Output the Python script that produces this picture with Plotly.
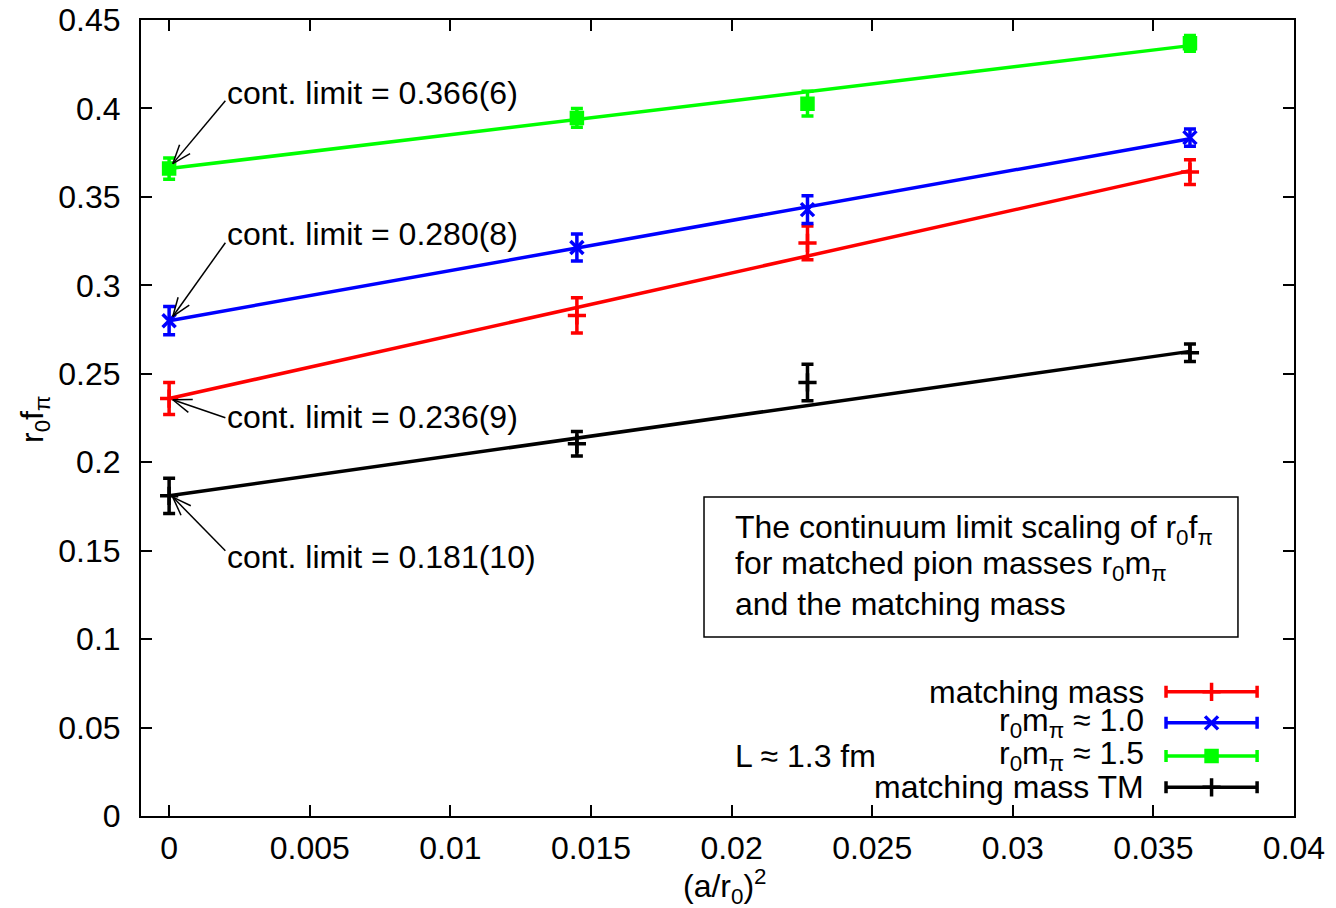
import math
import plotly.graph_objects as go

# (a/r0)^2 for the three lattice spacings plus the continuum point
a_r0_sq = [0.0, 0.0145, 0.0227, 0.0363]

# r0 f_pi values and errors per data set
matching_mass = [0.236, 0.283, 0.324, 0.364]
matching_mass_err = [0.009, 0.010, 0.0096, 0.007]

r0mpi_10 = [0.280, 0.3214, 0.3428, 0.3835]
r0mpi_10_err = [0.008, 0.0076, 0.0079, 0.0049]

r0mpi_15 = [0.366, 0.3946, 0.4027, 0.4368]
r0mpi_15_err = [0.006, 0.0053, 0.007, 0.0045]

matching_mass_tm = [0.181, 0.2104, 0.2451, 0.2619]
matching_mass_tm_err = [0.010, 0.0069, 0.0103, 0.005]

# linear continuum fits: intercept, slope
fit_intercept = [0.236, 0.280, 0.366, 0.181]
fit_slope = [3.55, 2.835, 1.915, 2.25]

series_names = ["matching mass", "r<sub>0</sub>m<sub>π</sub> ≈ 1.0",
                "r<sub>0</sub>m<sub>π</sub> ≈ 1.5", "matching mass TM"]
series_colors = ["#ff0000", "#0000ff", "#00ff00", "#000000"]
series_symbols = ["cross-thin", "x-thin", "square", "cross-thin"]
series_values = [matching_mass, r0mpi_10, r0mpi_15, matching_mass_tm]
series_errors = [matching_mass_err, r0mpi_10_err, r0mpi_15_err, matching_mass_tm_err]

# continuum-limit labels and their arrows
limit_labels = ["cont. limit = 0.236(9)", "cont. limit = 0.280(8)",
                "cont. limit = 0.366(6)", "cont. limit = 0.181(10)"]
label_x = 0.002
label_y = [0.2257, 0.3292, 0.4089, 0.1465]
arrow_tail_y = [0.2251, 0.3241, 0.4044, 0.1499]
arrow_tip_x = 0.00013
arrow_tip_y = [0.2353, 0.2824, 0.3688, 0.1803]

x_tickvals = [0, 0.005, 0.01, 0.015, 0.02, 0.025, 0.03, 0.035, 0.04]
y_tickvals = [0, 0.05, 0.1, 0.15, 0.2, 0.25, 0.3, 0.35, 0.4, 0.45]

X_RANGE = [-0.001, 0.04]
Y_RANGE = [0.0, 0.45]

W, H = 1336, 908
M_L, M_R, M_T, M_B = 141, 42, 20, 92
PLOT_W = W - M_L - M_R
PLOT_H = H - M_T - M_B

FONT = "Liberation Sans, Arial, Helvetica, sans-serif"
FS = 32
LW = 3.5


def marker_style(sym, color):
    return dict(symbol=sym, size=11 if sym == "square" else 13, color=color,
                line=dict(color=color, width=LW))


fig = go.Figure()

for vals, errs, color, sym, a, b in zip(series_values, series_errors, series_colors,
                                        series_symbols, fit_intercept, fit_slope):
    xs = [a_r0_sq[0], a_r0_sq[-1]]
    fig.add_trace(go.Scatter(
        x=xs, y=[a + b * x for x in xs], mode="lines",
        line=dict(color=color, width=LW), showlegend=False, hoverinfo="skip"))
    fig.add_trace(go.Scatter(
        x=a_r0_sq, y=vals, mode="markers",
        error_y=dict(type="data", array=errs, visible=True, color=color,
                     thickness=LW, width=6),
        marker=marker_style(sym, color),
        showlegend=False))

# key samples drawn on an overlay axis spanning the plot area
key_x_center = 0.9285
key_half = 0.0395
key_rows = [0.156, 0.117, 0.0754, 0.036]
for name, color, sym, ky in zip(series_names, series_colors, series_symbols, key_rows):
    fig.add_trace(go.Scatter(
        x=[key_x_center], y=[ky], mode="markers", xaxis="x2", yaxis="y2",
        error_x=dict(type="constant", value=key_half, visible=True, color=color,
                     thickness=LW, width=6),
        marker=marker_style(sym, color),
        showlegend=False, hoverinfo="skip"))

annotations = []
for name, ky in zip(series_names, key_rows):
    annotations.append(dict(
        x=0.8716, y=ky, xref="paper", yref="paper", text=name, showarrow=False,
        xanchor="right", yanchor="middle", font=dict(family=FONT, size=FS, color="black")))

annotations.append(dict(
    x=0.5134, y=0.0754, xref="paper", yref="paper", text="L ≈ 1.3 fm", showarrow=False,
    xanchor="left", yanchor="middle", font=dict(family=FONT, size=FS, color="black")))

box_lines = ["The continuum limit scaling of r<sub>0</sub>f<sub>π</sub>",
             "for matched pion masses r<sub>0</sub>m<sub>π</sub>",
             "and the matching mass"]
box_line_y = [0.3593, 0.3153, 0.2663]
for txt, ly in zip(box_lines, box_line_y):
    annotations.append(dict(
        x=0.5134, y=ly, xref="paper", yref="paper", text=txt, showarrow=False,
        xanchor="left", yanchor="middle", font=dict(family=FONT, size=FS, color="black")))

for txt, ly in zip(limit_labels, label_y):
    annotations.append(dict(
        x=label_x, y=ly, xref="x", yref="y", text=txt, showarrow=False,
        xanchor="left", yanchor="middle", font=dict(family=FONT, size=FS, color="black")))

# axis titles
annotations.append(dict(
    x=-0.0919, y=0.4975, xref="paper", yref="paper",
    text="r<sub>0</sub>f<sub>π</sub>", showarrow=False, textangle=-90,
    xanchor="center", yanchor="middle", font=dict(family=FONT, size=FS, color="black")))
annotations.append(dict(
    x=0.5065, y=-0.088, xref="paper", yref="paper",
    text="(a/r<sub>0</sub>)<sup>2</sup>", showarrow=False,
    xanchor="center", yanchor="middle", font=dict(family=FONT, size=FS, color="black")))

shapes = []
# text box
shapes.append(dict(type="rect", xref="paper", yref="paper",
                   x0=0.4883, x1=0.9514, y0=0.2249, y1=0.4008,
                   line=dict(color="black", width=1.5), fillcolor="rgba(0,0,0,0)"))

# arrows with open heads
px_x = PLOT_W / (X_RANGE[1] - X_RANGE[0])
px_y = PLOT_H / (Y_RANGE[1] - Y_RANGE[0])
HEAD_LEN = 20
HEAD_ANG = math.radians(20)
for ty, hy in zip(arrow_tail_y, arrow_tip_y):
    shapes.append(dict(type="line", xref="x", yref="y",
                       x0=label_x, y0=ty, x1=arrow_tip_x, y1=hy,
                       line=dict(color="black", width=1.5)))
    vx = (label_x - arrow_tip_x) * px_x
    vy = (ty - hy) * px_y
    n = math.hypot(vx, vy)
    ux, uy = vx / n, vy / n
    for s in (1, -1):
        c, si = math.cos(s * HEAD_ANG), math.sin(s * HEAD_ANG)
        rx = ux * c - uy * si
        ry = ux * si + uy * c
        shapes.append(dict(type="line", xref="x", yref="y",
                           xsizemode="pixel", ysizemode="pixel",
                           xanchor=arrow_tip_x, yanchor=hy,
                           x0=0, y0=0, x1=rx * HEAD_LEN, y1=ry * HEAD_LEN,
                           line=dict(color="black", width=1.5)))

axis_common = dict(
    showgrid=False, zeroline=False, showline=True, linecolor="black", linewidth=2,
    mirror="allticks", ticks="inside", ticklen=11, tickwidth=1.5, tickcolor="black",
    automargin=False,
    tickfont=dict(family=FONT, size=FS, color="black"))

fig.update_layout(
    width=W, height=H, autosize=False,
    margin=dict(l=M_L, r=M_R, t=M_T, b=M_B, pad=0, autoexpand=False),
    paper_bgcolor="white", plot_bgcolor="white",
    showlegend=False,
    xaxis=dict(range=X_RANGE, tickvals=x_tickvals, ticklabelstandoff=3, **axis_common),
    yaxis=dict(range=Y_RANGE, tickvals=y_tickvals, ticklabelstandoff=12, **axis_common),
    xaxis2=dict(range=[0, 1], overlaying="x", visible=False),
    yaxis2=dict(range=[0, 1], overlaying="y", visible=False),
    annotations=annotations,
    shapes=shapes,
)

fig.write_html("out.html")
